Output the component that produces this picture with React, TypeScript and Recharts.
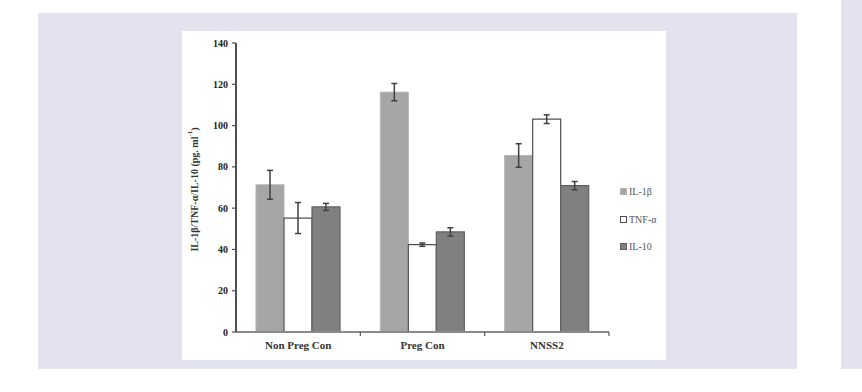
import React from "react";
import { BarChart, Bar, XAxis, YAxis, ErrorBar, Legend } from "recharts";

const categories = ["Non Preg Con", "Preg Con", "NNSS2"];
const seriesNames = ["IL-1β", "TNF-α", "IL-10"];
const il1b = [71.3, 116.2, 85.5];
const il1bErr = [7, 4.2, 5.7];
const tnf = [55.2, 42.3, 103.1];
const tnfErr = [7.5, 0.8, 2.1];
const il10 = [60.6, 48.5, 70.9];
const il10Err = [1.7, 2, 2];
const yTicks = [0, 20, 40, 60, 80, 100, 120, 140];

const data = categories.map((name, i) => ({
  name,
  il1b: il1b[i],
  il1bErr: il1bErr[i],
  tnf: tnf[i],
  tnfErr: tnfErr[i],
  il10: il10[i],
  il10Err: il10Err[i],
}));

const FONT = "'Liberation Serif', 'Times New Roman', serif";

function CategoryTick(props: any) {
  const { x, y, payload } = props;
  const half = payload && payload.offset ? payload.offset : 62;
  return (
    <g>
      <line x1={x + half} x2={x + half} y1={y - 6} y2={y - 2} stroke="#555" strokeWidth={1.2} />
      <text x={x} y={y + 11} textAnchor="middle" fontFamily={FONT} fontWeight="bold" fontSize={11} fill="#333">
        {payload.value}
      </text>
    </g>
  );
}

function YLabel(props: any) {
  const vb = props.viewBox || { x: 10, y: 12, height: 289 };
  const cx = vb.x + 2;
  const cy = vb.y + vb.height / 2 + 2;
  return (
    <text
      x={cx}
      y={cy}
      transform={`rotate(-90, ${cx}, ${cy})`}
      textAnchor="middle"
      dominantBaseline="central"
      fontFamily={FONT}
      fontWeight="bold"
      fontSize={10}
      fill="#333"
    >
      IL-1β/TNF-α/IL-10 (pg. ml<tspan dy={-4} fontSize={7}>-1</tspan>
      <tspan dy={4}>)</tspan>
    </text>
  );
}

function LegendContent(props: any) {
  const items = [...(props.payload || [])].sort(
    (a: any, b: any) => seriesNames.indexOf(a.value) - seriesNames.indexOf(b.value)
  );
  return (
    <div style={{ fontFamily: FONT, fontSize: 10, color: "#555" }}>
      {items.map((it: any) => (
        <div key={it.value} style={{ display: "flex", alignItems: "center", height: 27.5 }}>
          <span
            style={{
              display: "inline-block",
              width: 5,
              height: 5,
              marginRight: 2,
              background: it.payload.fill,
              border: `1px solid ${it.payload.stroke || it.payload.fill}`,
            }}
          />
          {it.value}
        </div>
      ))}
    </div>
  );
}

export default function App() {
  return (
    <div style={{ position: "absolute", left: 0, top: 0, width: 862, height: 392, background: "#fff" }}>
      <div style={{ position: "absolute", left: 38, top: 13, width: 759, height: 356, background: "#e3e2ef" }} />
      <div style={{ position: "absolute", left: 841, top: 0, width: 21, height: 369, background: "#e3e2ef" }} />
      <div style={{ position: "absolute", left: 182, top: 31, width: 484, height: 329, background: "#fff" }}>
        <BarChart
          width={484}
          height={329}
          data={data}
          margin={{ top: 12, right: 57, left: 10, bottom: 0 }}
          barCategoryGap={20}
          barGap={0}
        >
          <XAxis
            dataKey="name"
            height={28}
            axisLine={{ stroke: "#8a8a8a", strokeWidth: 2 }}
            tickLine={false}
            tickSize={4}
            tickMargin={2}
            tick={<CategoryTick />}
            interval={0}
          />
          <YAxis
            width={44}
            domain={[0, 140]}
            ticks={yTicks}
            interval={0}
            axisLine={{ stroke: "#505050", strokeWidth: 2 }}
            tickLine={{ stroke: "#505050", strokeWidth: 1.2 }}
            tickSize={4}
            tickMargin={4}
            tick={{ fontFamily: FONT, fontWeight: "bold", fontSize: 10, fill: "#222" }}
            label={<YLabel />}
          />
          <Legend
            layout="vertical"
            align="center"
            verticalAlign="middle"
            wrapperStyle={{ left: 438, top: 147, width: 46 }}
            content={<LegendContent />}
          />
          <Bar dataKey="il1b" name={seriesNames[0]} fill="#a6a6a6" stroke="#b4b4b4" strokeWidth={1} isAnimationActive={false}>
            <ErrorBar dataKey="il1bErr" width={3} stroke="#404040" strokeWidth={1.5} direction="y" />
          </Bar>
          <Bar dataKey="tnf" name={seriesNames[1]} fill="#ffffff" stroke="#505050" strokeWidth={1.2} isAnimationActive={false}>
            <ErrorBar dataKey="tnfErr" width={3} stroke="#404040" strokeWidth={1.5} direction="y" />
          </Bar>
          <Bar dataKey="il10" name={seriesNames[2]} fill="#808080" stroke="#606060" strokeWidth={1.2} isAnimationActive={false}>
            <ErrorBar dataKey="il10Err" width={3} stroke="#404040" strokeWidth={1.5} direction="y" />
          </Bar>
        </BarChart>
      </div>
    </div>
  );
}
